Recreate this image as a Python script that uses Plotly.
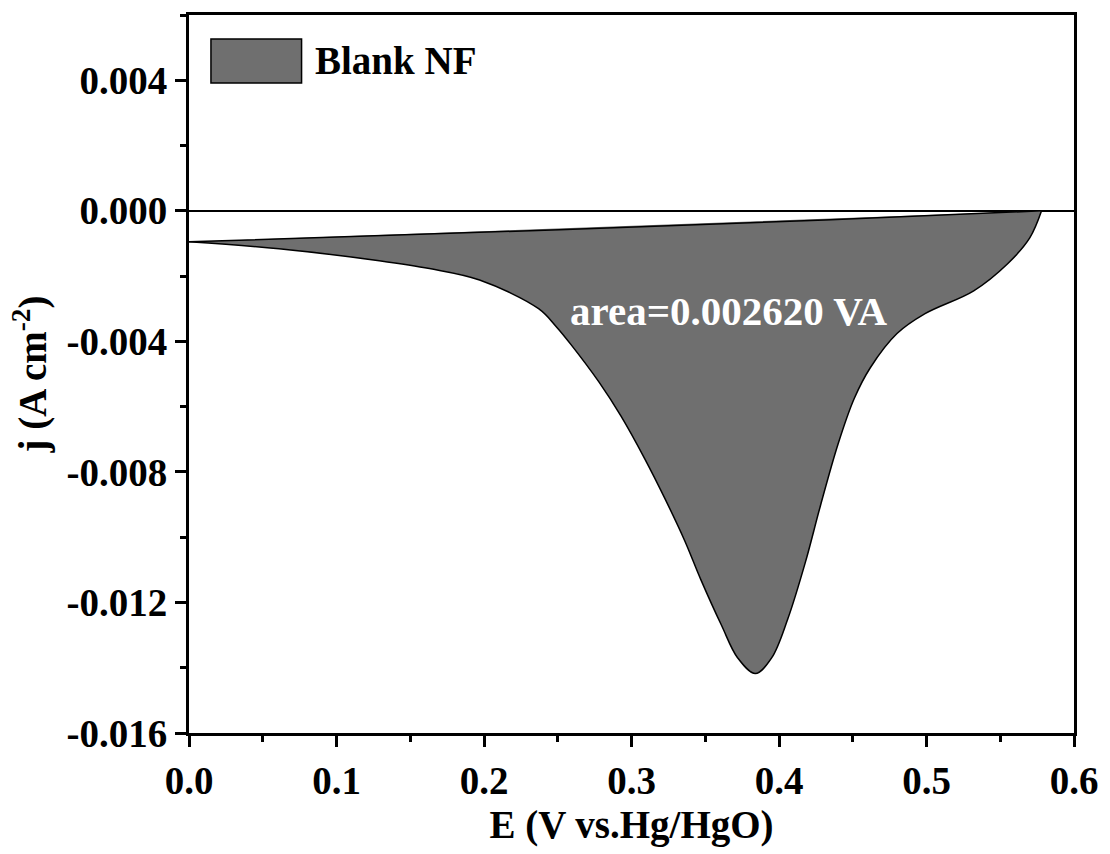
import plotly.graph_objects as go

# Baseline of the scan, from start to the end of the peak
upper_E = [0.000, 0.129, 0.251, 0.431, 0.578]
upper_j = [-0.00095, -0.00076, -0.00058, -0.00028, 0.00000]

# Potential (V vs. Hg/HgO) and current density (A cm^-2) along the reduction peak,
# running back from the end of the peak to the start
lower_E = [0.578, 0.570, 0.555, 0.532, 0.499, 0.480, 0.462, 0.451, 0.440, 0.428,
           0.418, 0.406, 0.395, 0.384, 0.372, 0.361, 0.347, 0.336, 0.323, 0.309,
           0.293, 0.278, 0.259, 0.249, 0.237, 0.197, 0.163, 0.129, 0.061, 0.000]
lower_j = [0.00000, -0.00083, -0.00162, -0.00245, -0.00315, -0.00376, -0.00480,
           -0.00575, -0.00715, -0.00905, -0.01075, -0.01250, -0.01370, -0.01418,
           -0.01370, -0.01270, -0.01130, -0.01010, -0.00885, -0.00760, -0.00630,
           -0.00525, -0.00410, -0.00355, -0.00300, -0.00212, -0.00177, -0.00153,
           -0.00116, -0.00095]

y_tickvals = [-0.016, -0.012, -0.008, -0.004, 0.000, 0.004]
y_ticktext = ["-0.016", "-0.012", "-0.008", "-0.004", "0.000", "0.004"]
x_tickvals = [0.0, 0.1, 0.2, 0.3, 0.4, 0.5, 0.6]
x_ticktext = ["0.0", "0.1", "0.2", "0.3", "0.4", "0.5", "0.6"]

series_name = "Blank NF"
area_label = "area=0.002620 VA"
area_pos = (0.366, -0.00306)

FONT = "Liberation Serif"
FS = 39
FILL = "#6f6f6f"

fig = go.Figure()
fig.add_trace(go.Scatter(
    x=upper_E, y=upper_j, mode="lines",
    line=dict(color="black", width=1.5),
    showlegend=False, hoverinfo="skip",
))
fig.add_trace(go.Scatter(
    x=lower_E, y=lower_j, mode="lines",
    fill="tonexty", fillcolor=FILL,
    line=dict(color="black", width=1.5, shape="spline", smoothing=1.0),
    name=series_name, showlegend=False, hoverinfo="skip",
))

fig.add_annotation(
    x=area_pos[0], y=area_pos[1], xref="x", yref="y",
    text=area_label, showarrow=False,
    font=dict(family=FONT, size=41, color="white", weight="bold"),
)

# Legend entry: swatch plus label
fig.add_shape(type="rect", xref="paper", yref="paper",
              x0=0.0248, x1=0.1272, y0=0.9054, y1=0.9666,
              fillcolor=FILL, line=dict(color="black", width=1.5))
fig.add_annotation(x=0.1396, y=0.936, xref="paper", yref="paper",
                   xanchor="left", yanchor="middle", showarrow=False,
                   text=series_name,
                   font=dict(family=FONT, size=FS, color="black", weight="bold"))

axis_common = dict(
    showgrid=False,
    showline=True, linecolor="black", linewidth=3, mirror=True,
    ticks="outside", ticklen=11, tickwidth=2.5, tickcolor="black",
    tickfont=dict(family=FONT, size=FS, color="black", weight="bold"),
)

fig.update_xaxes(
    range=[0, 0.6], tickmode="array", tickvals=x_tickvals, ticktext=x_ticktext,
    zeroline=False,
    minor=dict(ticks="outside", ticklen=6, tickwidth=2.5, tickcolor="black", dtick=0.05),
    title=dict(text="E (V vs.Hg/HgO)", standoff=10,
               font=dict(family=FONT, size=FS, color="black", weight="bold")),
    **axis_common,
)
fig.update_yaxes(
    range=[-0.016, 0.006], tickmode="array", tickvals=y_tickvals, ticktext=y_ticktext,
    zeroline=True, zerolinecolor="black", zerolinewidth=2,
    minor=dict(ticks="outside", ticklen=6, tickwidth=2.5, tickcolor="black",
               tick0=0, dtick=0.002),
    title=dict(text="j (A cm<sup>-2</sup>)", standoff=8,
               font=dict(family=FONT, size=FS, color="black", weight="bold")),
    **axis_common,
)

fig.update_layout(
    width=1110, height=854,
    margin=dict(l=189, r=33, t=14, b=121),
    paper_bgcolor="white", plot_bgcolor="white",
    font=dict(family=FONT, color="black"),
)

fig.write_html("out.html")
